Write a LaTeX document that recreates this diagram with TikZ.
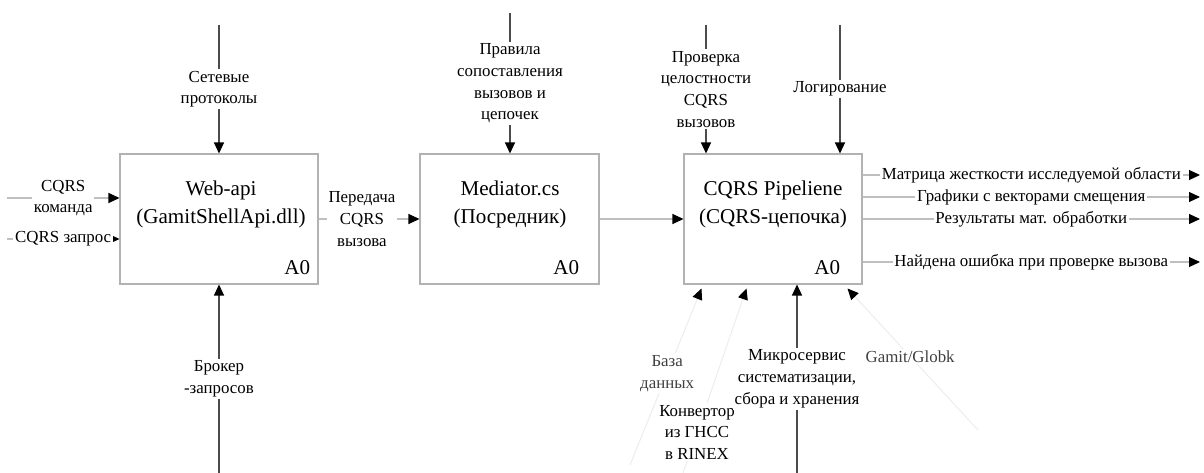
\documentclass[tikz,border=0pt]{standalone}
\usepackage{fontspec}
\setmainfont{Liberation Serif}
\usetikzlibrary{arrows.meta, positioning, calc}

\begin{document}
\begin{tikzpicture}[x=0.02cm, y=-0.02cm,
    box/.style={draw=black!30, line width=0.6pt, minimum width=3.96cm, minimum height=2.6cm},
    title/.style={align=center, font=\fontsize{12}{16}\selectfont},
    num/.style={font=\fontsize{12}{14}\selectfont, anchor=south east, inner sep=0pt},
    lbl/.style={align=center, fill=white, inner sep=1pt, font=\fontsize{9.6}{12.4}\selectfont},
    vline/.style={draw=black!70, line width=0.6pt, -{Triangle[length=2.2mm, width=2mm, color=black]}},
    hline/.style={draw=black!25, line width=0.6pt, -{Triangle[length=2.2mm, width=2mm, color=black]}},
    faint/.style={draw=black!7, line width=0.6pt, -{Triangle[length=2.2mm, width=2mm, color=black]}},
]
  \useasboundingbox (0,0) rectangle (1204,473);

  % Function boxes
  \node[box] (webapi) at (219,219) {};
  \node[box, minimum width=3.58cm] (mediator) at (509.5,219) {};
  \node[box, minimum width=3.56cm] (pipeline) at (773,219) {};

  \node[title] (webapiT) at (221,204) {Web-api\\(GamitShellApi.dll)};
  \node[title] (mediatorT) at (510,204) {Mediator.cs\\(Посредник)};
  \node[title] (pipelineT) at (773,204) {CQRS Pipeliene\\(CQRS-цепочка)};

  \node[num] (webapiN) at ([xshift=-0.16cm, yshift=0.18cm]webapi.south east) {A0};
  \node[num] (mediatorN) at ([xshift=-0.4cm, yshift=0.18cm]mediator.south east) {A0};
  \node[num] (pipelineN) at ([xshift=-0.44cm, yshift=0.18cm]pipeline.south east) {A0};

  % Controls (top)
  \coordinate (netIn) at (219,25);
  \coordinate (rulesIn) at (510,13);
  \coordinate (checkIn) at (706,25);
  \coordinate (logIn) at (840,25);
  \draw[vline] (netIn) -- node[lbl] {Сетевые\\протоколы} (netIn |- webapi.north);
  \draw[vline] (rulesIn) -- node[lbl] {Правила\\сопоставления\\вызовов и\\цепочек} (rulesIn |- mediator.north);
  \draw[vline] (checkIn) -- node[lbl] {Проверка\\целостности\\CQRS\\вызовов} (checkIn |- pipeline.north);
  \draw[vline] (logIn) -- node[lbl] {Логирование} (logIn |- pipeline.north);

  % Inputs (left)
  \coordinate (cmdIn) at (7,198);
  \coordinate (qryIn) at (7,239);
  \draw[hline] (cmdIn) -- node[lbl] {CQRS\\команда} (cmdIn -| webapi.west);
  \draw[hline] (qryIn) -- node[lbl] {CQRS запрос} (qryIn -| webapi.west);

  % Between boxes
  \draw[hline] (webapi.east) -- node[lbl, pos=0.43] {Передача\\CQRS\\вызова} (mediator.west);
  \draw[hline] (mediator.east) -- (pipeline.west);

  % Outputs (right)
  \coordinate (out1) at (1200,175);
  \coordinate (out2) at (1200,197);
  \coordinate (out3) at (1200,219);
  \coordinate (out4) at (1200,262);
  \draw[hline] (out1 -| pipeline.east) -- node[lbl] {Матрица жесткости исследуемой области} (out1);
  \draw[hline] (out2 -| pipeline.east) -- node[lbl] {Графики с векторами смещения} (out2);
  \draw[hline] (out3 -| pipeline.east) -- node[lbl] {Результаты мат. обработки} (out3);
  \draw[hline] (out4 -| pipeline.east) -- node[lbl] {Найдена ошибка при проверке вызова} (out4);

  % Mechanisms (bottom)
  \coordinate (brokerIn) at (219,473);
  \draw[vline] (brokerIn) -- node[lbl] {Брокер\\-запросов} (brokerIn |- webapi.south);

  \coordinate (dbIn) at (630,465);
  \coordinate (convIn) at (683,473);
  \coordinate (msIn) at (797,473);
  \coordinate (gamitIn) at (978,430);
  \coordinate (dbTip) at ($(pipeline.south west)+(18,4)$);
  \coordinate (convTip) at ($(pipeline.south west)+(63,4)$);
  \coordinate (gamitTip) at ($(pipeline.south west)+(164,4)$);
  \draw[faint] (dbIn) -- node[lbl, pos=0.52, text=black!75] {База\\данных} (dbTip);
  \draw[faint] (convIn) -- node[lbl, pos=0.22] {Конвертор\\из ГНСС\\в RINEX} (convTip);
  \draw[vline] (msIn) -- node[lbl, pos=0.5] {Микросервис\\систематизации,\\сбора и хранения} (msIn |- pipeline.south);
  \draw[faint] (gamitIn) -- node[lbl, pos=0.52, text=black!75] {Gamit/Globk} (gamitTip);
\end{tikzpicture}
\end{document}
